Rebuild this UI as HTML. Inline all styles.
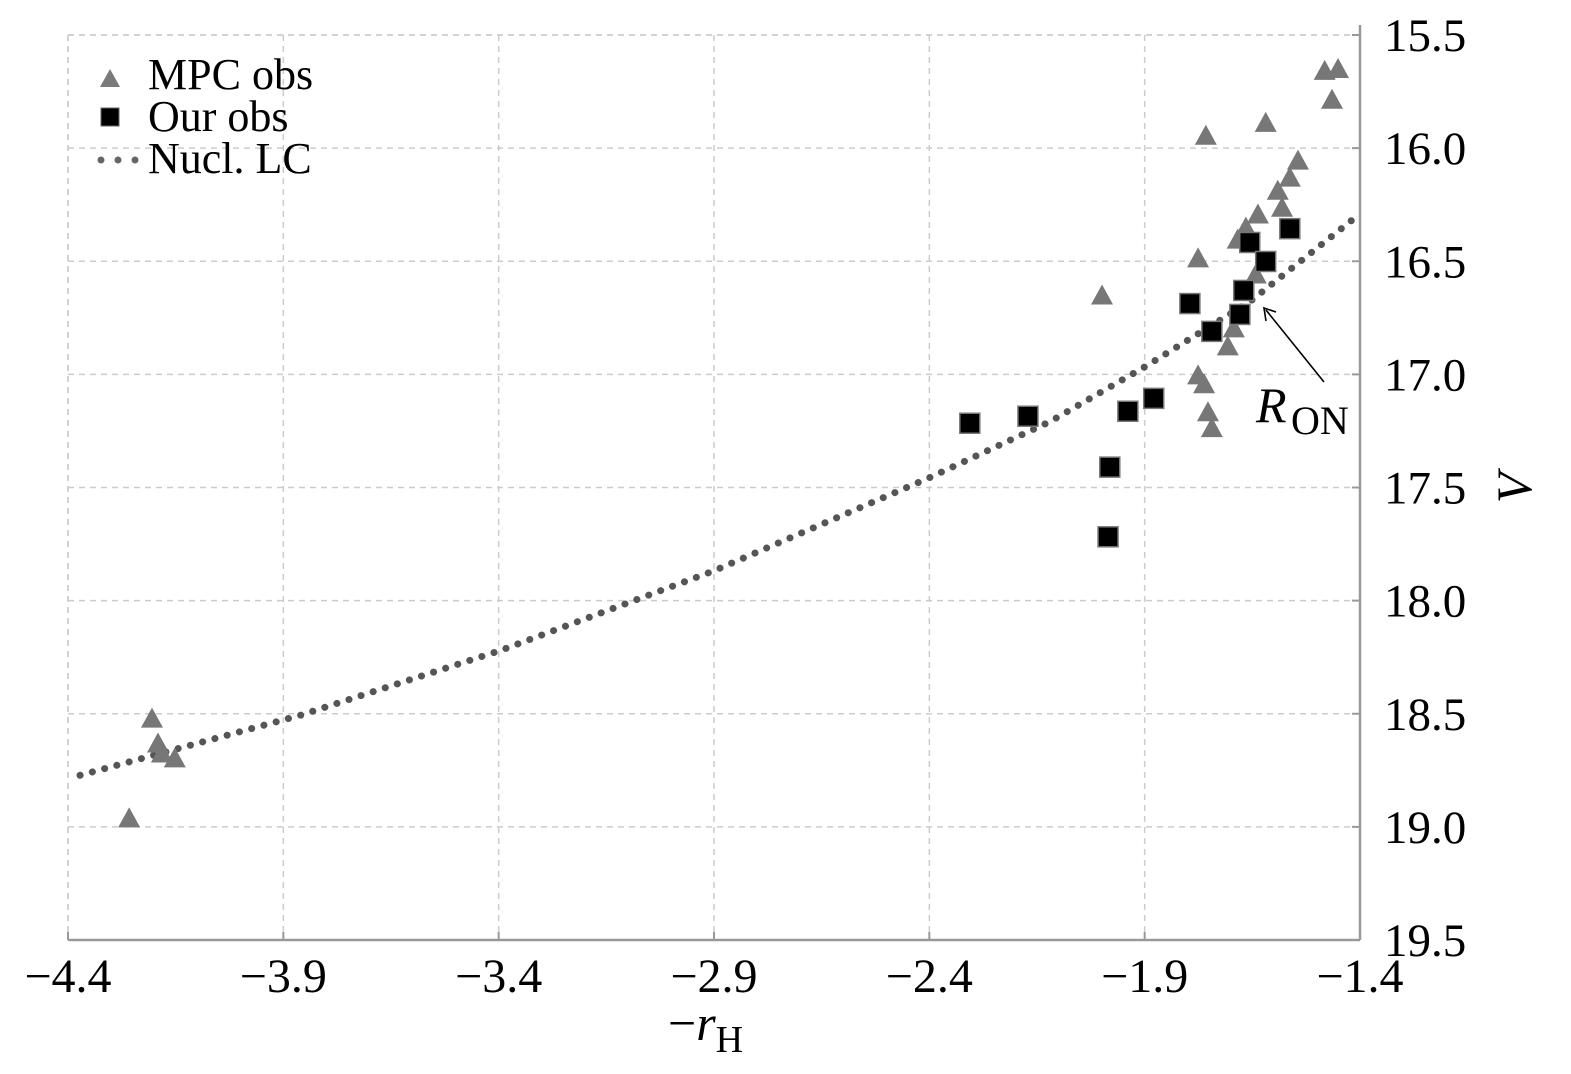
<!DOCTYPE html>
<html><head><meta charset="utf-8"><style>
body{margin:0;background:#fff}
svg{display:block}
text{font-family:"Liberation Serif",serif;fill:#000}
</style></head><body>
<svg id="chart" width="1571" height="1074" viewBox="0 0 1571 1074" xmlns="http://www.w3.org/2000/svg">
<g id="grid"></g>
<g id="axes"></g>
<g id="curve"></g>
<g id="mpc"></g>
<g id="our"></g>
<g>
  <polygon points="100,87 120,87 110,69" fill="#7a7a7a"/>
  <text x="148" y="89" font-size="44">MPC obs</text>
  <rect x="101" y="108" width="18" height="18" fill="#000" stroke="#666" stroke-width="1"/>
  <text x="148" y="131" font-size="44">Our obs</text>
  <circle cx="101" cy="160" r="3.5" fill="#666"/><circle cx="118" cy="160" r="3.5" fill="#666"/><circle cx="135" cy="160" r="3.5" fill="#666"/>
  <text x="148" y="173" font-size="44">Nucl. LC</text>
</g>
<g>
  <line x1="1324" y1="382" x2="1266" y2="310" stroke="#000" stroke-width="1.6"/>
  <polyline points="1266,321 1264,308 1276,312" fill="none" stroke="#000" stroke-width="1.6"/>
  <text x="1256" y="422" font-size="50" font-style="italic">R</text>
  <text x="1291" y="434" font-size="40">ON</text>
</g>
<text x="668" y="1040" font-size="50">−<tspan font-style="italic">r</tspan><tspan font-size="38" dy="12">H</tspan></text>
<text transform="translate(1531,488) rotate(-90)" font-size="50" font-style="italic" text-anchor="middle">V</text>
</svg>
<script>
const xTicks=[-4.4,-3.9,-3.4,-2.9,-2.4,-1.9,-1.4];
const yTicks=[15.5,16.0,16.5,17.0,17.5,18.0,18.5,19.0,19.5];
const mpcX=[-1.482,-1.451,-1.465,-1.758,-1.619,-1.544,-1.563,-1.591,-1.581,-1.637,-1.665,-1.684,-1.776,-1.642,-1.999,-1.693,-1.707,-1.776,-1.762,-1.753,-1.744,-4.205,-4.191,-4.182,-4.152,-4.258];
const mpcV=[15.654,15.646,15.782,15.941,15.884,16.051,16.126,16.184,16.259,16.289,16.347,16.400,16.483,16.554,16.647,16.792,16.872,17.000,17.039,17.163,17.233,18.517,18.627,18.671,18.693,18.958];
const ourX=[-1.563,-1.656,-1.619,-1.670,-1.795,-1.679,-1.744,-1.879,-1.939,-2.306,-2.171,-1.981,-1.985];
const ourV=[16.356,16.417,16.501,16.629,16.687,16.735,16.810,17.106,17.163,17.216,17.185,17.410,17.718];
const lcX=[-4.372,-3.861,-3.397,-2.900,-2.399,-2.120,-1.899,-1.656,-1.400];
const lcV=[18.772,18.507,18.221,17.868,17.456,17.209,16.966,16.679,16.290];
const NS="http://www.w3.org/2000/svg";
const X0=68,X1=1360,Y0=35,Y1=940;
const sx=v=>X0+(v+4.4)/3*(X1-X0);
const sy=v=>Y0+(v-15.5)/4*(Y1-Y0);
function mk(t,a,p){const e=document.createElementNS(NS,t);for(const k in a)e.setAttribute(k,a[k]);p.appendChild(e);return e;}
const grid=document.getElementById('grid'),axes=document.getElementById('axes');
xTicks.forEach((t,i)=>{
  const g=mk('line',{x1:sx(t),x2:sx(t),y1:Y0,y2:Y1,stroke:'#ccc','stroke-width':1.5,'stroke-dasharray':'6,5'},grid);
  
  
  mk('line',{x1:sx(t),x2:sx(t),y1:Y1-8,y2:Y1,stroke:'#999','stroke-width':2},axes);
  const tx=mk('text',{x:sx(t),y:992,'font-size':48,'text-anchor':'middle'},axes);
  tx.textContent=(t<0?'−':'')+Math.abs(t).toFixed(1);
  
  
});
yTicks.forEach(t=>{
  const g=mk('line',{x1:X0,x2:X1,y1:sy(t),y2:sy(t),stroke:'#ccc','stroke-width':1.5,'stroke-dasharray':'6,5'},grid);
  
  
  mk('line',{x1:X1-8,x2:X1,y1:sy(t),y2:sy(t),stroke:'#999','stroke-width':2},axes);
  const tx=mk('text',{x:1384,y:sy(t)+16,'font-size':47},axes);
  tx.textContent=t.toFixed(1);
  
  
});
mk('line',{x1:X0,x2:X0,y1:Y0,y2:Y1,stroke:'#ccc','stroke-width':1.5,'stroke-dasharray':'6,5'},grid);
mk('line',{x1:X0,x2:X1,y1:Y0,y2:Y0,stroke:'#ccc','stroke-width':1.5,'stroke-dasharray':'6,5'},grid);
mk('line',{x1:X1,x2:X1,y1:Y0-10,y2:Y1,stroke:'#999','stroke-width':2.5},axes);
mk('line',{x1:X0,x2:X1,y1:Y1,y2:Y1,stroke:'#999','stroke-width':2.5},axes);
const cg=document.getElementById('curve');
let d='';lcX.forEach((x,i)=>{d+=(i?'L':'M')+sx(x)+','+sy(lcV[i]);});
const cp=mk('path',{d:d,fill:'none',stroke:'#555','stroke-width':7,'stroke-linecap':'round','stroke-dasharray':'0.1,12.6'},cg);


const mg=document.getElementById('mpc');
mpcX.forEach((x,i)=>{
  const cx=sx(x),cy=sy(mpcV[i]);
  const p=mk('polygon',{points:`${cx-11},${cy+10} ${cx+11},${cy+10} ${cx},${cy-10}`,fill:'#777'},mg);
  
  
});
const og=document.getElementById('our');
ourX.forEach((x,i)=>{
  const cx=sx(x),cy=sy(ourV[i]);
  const r=mk('rect',{x:cx-10,y:cy-10,width:20,height:20,fill:'#000',stroke:'#777','stroke-width':1.5},og);
  
  
});
</script>
</body></html>
